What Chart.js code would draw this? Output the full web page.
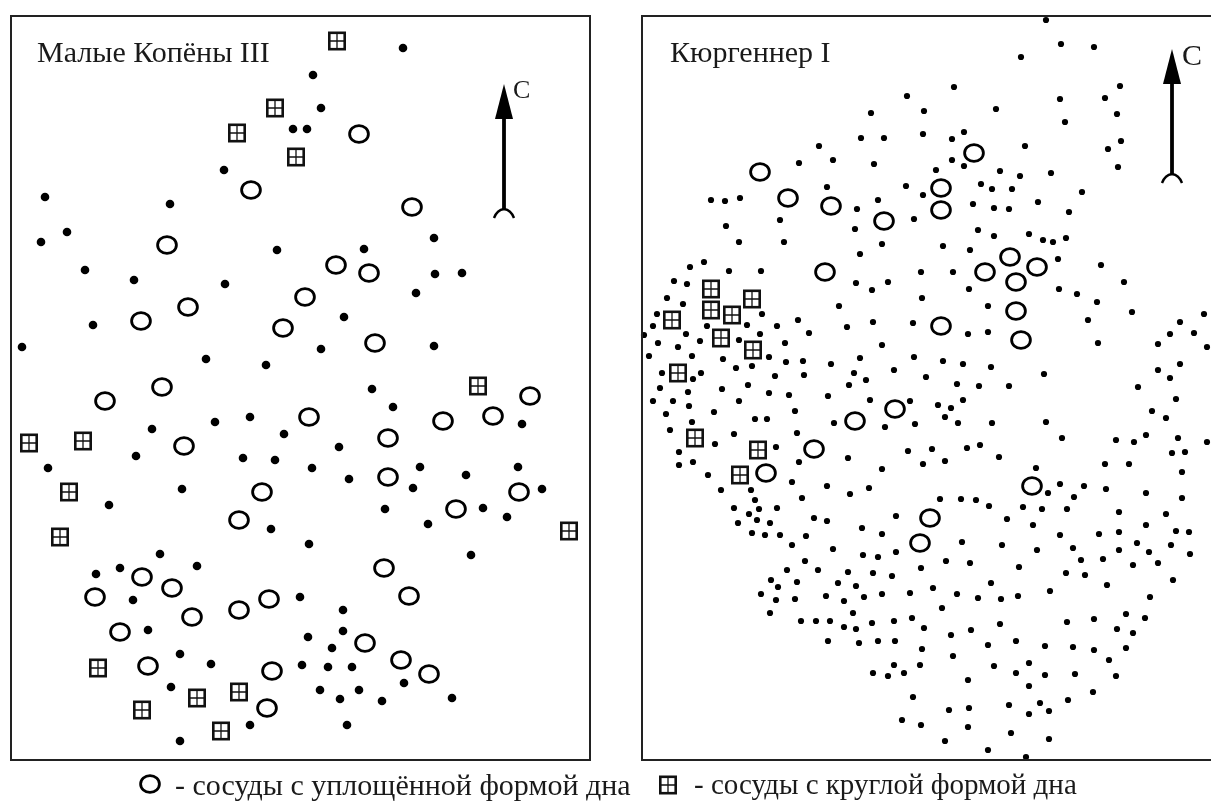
<!DOCTYPE html>
<html lang="ru">
  <head>
    <meta charset="UTF-8" />
    <title>Малые Копёны III, Кюргеннер I</title>
    <script src="https://cdnjs.cloudflare.com/ajax/libs/Chart.js/4.4.1/chart.umd.min.js"></script>
    <style>
      html, body { margin: 0; height: 100%; overflow: hidden; background: #ffffff; }
      canvas, .label { position: absolute; }
      .label { font-family: "Liberation Serif", serif; color: #1a1a1a; white-space: nowrap; line-height: 1; }
      .wrap { position: absolute; top: 0; height: 790px; }
      #leftWrap { left: 0; width: 620px; }
      #rightWrap { left: 630px; width: 590px; }
    </style>
  </head>
  <body>
    <div class="wrap" id="leftWrap"><canvas id="kopenyChart"></canvas></div>
    <div class="wrap" id="rightWrap"><canvas id="kurgennerChart"></canvas></div>

    <div class="label" style="left:37px;top:37px;font-size:30px">Малые Копёны III</div>
    <div class="label" style="left:670px;top:37px;font-size:30px">Кюргеннер I</div>
    <div class="label" style="left:513px;top:77px;font-size:26px">С</div>
    <div class="label" style="left:1182px;top:40px;font-size:30px">С</div>
    <div class="label" style="left:175px;top:770px;font-size:30px">- сосуды с уплощённой формой дна</div>
    <div class="label" style="left:694px;top:770px;font-size:29px">- сосуды с круглой формой дна</div>

    <script>
      // map coordinates: [x, y]
      const kopenyDots = [
        [403,48],[313,75],[321,108],[293,129],[307,129],[224,170],[45,197],[170,204],[67,232],[41,242],
        [277,250],[364,249],[434,238],[85,270],[134,280],[225,284],[435,274],[462,273],[416,293],[344,317],
        [93,325],[22,347],[206,359],[266,365],[321,349],[434,346],[372,389],[393,407],[215,422],[250,417],
        [522,424],[284,434],[152,429],[339,447],[136,456],[243,458],[275,460],[48,468],[312,468],[420,467],
        [466,475],[518,467],[349,479],[413,488],[542,489],[182,489],[109,505],[385,509],[483,508],[507,517],
        [428,524],[271,529],[309,544],[160,554],[471,555],[96,574],[120,568],[197,566],[133,600],[300,597],
        [343,610],[148,630],[343,631],[308,637],[332,648],[180,654],[211,664],[302,665],[328,667],[352,667],
        [171,687],[320,690],[359,690],[404,683],[340,699],[382,701],[452,698],[250,725],[347,725],[180,741]
      ];
      const kopenyRings = [
        [359,134],[251,190],[412,207],[167,245],[336,265],[369,273],[305,297],[188,307],[141,321],[283,328],
        [375,343],[162,387],[105,401],[309,417],[530,396],[493,416],[443,421],[388,438],[184,446],[388,477],
        [262,492],[519,492],[456,509],[239,520],[384,568],[142,577],[172,588],[95,597],[269,599],[409,596],
        [239,610],[192,617],[120,632],[365,643],[401,660],[429,674],[272,671],[148,666],[267,708]
      ];
      const kopenySquares = [
        [337,41],[275,108],[237,133],[296,157],[478,386],[29,443],[83,441],[69,492],[60,537],[569,531],
        [98,668],[239,692],[197,698],[142,710],[221,731]
      ];
      const kopenyArrow = [504, 84, 218];

      const kurgennerDots = [
        [1046,20],[1061,44],[1094,47],[1021,57],[954,87],[1120,86],[1060,99],[1105,98],[924,111],[996,109],
        [1117,114],[1065,122],[923,134],[964,132],[952,139],[1025,146],[1121,141],[1108,149],[952,160],[964,166],
        [936,170],[1000,171],[1020,176],[1051,173],[1118,167],[981,184],[992,189],[1012,189],[923,195],[1082,192],
        [973,204],[994,208],[1009,209],[1038,202],[1069,212],[978,230],[994,236],[1029,234],[1043,240],[1053,242],
        [1066,238],[943,246],[970,250],[1058,259],[1101,265],[921,272],[953,272],[1124,282],[969,289],[1059,289],
        [1077,294],[922,298],[1097,302],[988,306],[1132,312],[1204,314],[1088,320],[1180,322],[988,332],[968,334],
        [1194,333],[1170,334],[1098,343],[1158,344],[1207,347],[943,361],[963,364],[1180,364],[991,367],[1158,370],
        [1044,374],[926,377],[1170,378],[957,384],[979,386],[1009,386],[1138,387],[963,400],[1176,399],[938,405],
        [951,408],[945,417],[958,423],[992,423],[1046,422],[1152,411],[1166,418],[1062,438],[1116,440],[1134,442],
        [1146,435],[1178,438],[1207,442],[932,449],[967,448],[980,445],[1172,453],[1185,452],[999,457],[923,464],
        [945,461],[1105,464],[1129,464],[1036,468],[1182,472],[1060,484],[1084,486],[1106,489],[1048,493],[1146,493],
        [1074,497],[1182,498],[940,499],[961,499],[976,500],[989,506],[1023,507],[1042,509],[1067,509],[1119,512],
        [1166,514],[1007,519],[1033,525],[1146,525],[1060,535],[1099,534],[1119,532],[1176,531],[1189,532],[962,542],
        [1002,545],[1137,543],[1171,545],[1037,550],[1073,548],[1119,550],[1149,552],[1190,554],[946,561],[970,563],
        [1081,560],[1103,559],[1158,563],[1133,565],[921,568],[1019,567],[1066,573],[1085,575],[1173,580],[991,583],
        [1107,585],[933,588],[957,594],[1050,591],[1018,596],[978,598],[1001,599],[1150,597],
        [907,96],[871,113],[861,138],[884,138],[819,146],[833,160],[799,163],[874,164],[827,187],[906,186],
        [878,200],[857,209],[711,200],[725,201],[740,198],[780,220],[726,226],[855,229],[914,219],
        [739,242],[784,242],[882,244],[860,254],[704,262],[690,267],[729,271],[761,271],[674,281],[687,284],
        [856,283],[888,282],[872,290],[667,298],[683,304],[839,306],[657,314],[762,314],[798,320],[873,322],
        [913,323],[653,326],[707,326],[747,325],[777,326],[847,327],[644,335],[686,334],[760,334],[809,333],
        [700,341],[739,340],[658,343],[785,343],[882,345],[678,347],[649,356],[692,356],[769,357],[860,358],
        [914,357],[723,359],[786,362],[803,361],[831,364],[736,368],[752,366],[894,370],[662,373],[701,373],
        [854,373],[775,376],[804,375],[866,380],[693,379],[660,388],[722,389],[748,385],[849,385],[688,392],
        [769,393],[789,395],[828,396],[653,401],[673,401],[739,401],[870,400],[910,401],[689,406],[666,414],
        [714,412],[795,411],[692,422],[755,419],[767,419],[834,423],[885,427],[915,424],[670,430],
        [734,434],[797,433],[715,444],[776,447],[679,452],[693,462],[679,465],[799,462],[908,451],[848,458],
        [882,469],[708,475],[792,482],[721,490],[751,490],[827,486],[850,494],[869,488],[802,498],[755,500],
        [734,508],[759,509],[777,508],[749,514],[757,520],[770,523],[738,523],[814,518],[827,521],[896,516],
        [862,528],[882,534],[752,533],[765,535],[780,535],[806,536],[792,545],[833,549],[863,555],[878,557],
        [896,552],[805,561],[787,570],[818,570],[848,572],[873,573],[892,576],[771,580],[797,582],[838,583],
        [856,586],[778,587],[761,594],[826,596],[864,597],[882,594],[910,593],[776,600],[795,599],[844,601],
        [853,613],[770,613],[801,621],[816,621],[830,621],[844,627],[856,629],[872,623],[894,621],[912,618],
        [924,628],[942,608],[951,635],[971,630],[1000,624],[1067,622],[1094,619],[1126,614],[1145,618],[1117,629],
        [1133,633],[828,641],[859,643],[878,641],[895,641],[922,649],[988,645],[1016,641],[1045,646],[1073,647],
        [1094,650],[1126,648],[953,656],[1109,660],[1029,663],[894,665],[920,665],[994,666],[873,673],[888,676],
        [904,673],[1016,673],[1045,675],[1075,674],[1116,676],[968,680],[1029,686],[1093,692],[913,697],[1068,700],
        [1040,703],[1009,705],[969,708],[949,710],[1049,711],[1029,714],[902,720],[921,725],[968,727],[1011,733],
        [1049,739],[945,741],[988,750],[1026,757]
      ];
      const kurgennerRings = [
        [760,172],[788,198],[831,206],[884,221],[974,153],[941,188],[941,210],[825,272],[1010,257],[1037,267],
        [985,272],[1016,282],[1016,311],[941,326],[1021,340],[855,421],[895,409],[814,449],[766,473],[1032,486],
        [930,518],[920,543]
      ];
      const kurgennerSquares = [
        [711,289],[752,299],[711,310],[732,315],[672,320],[721,338],[753,350],[678,373],[695,438],[758,450],
        [740,475]
      ];
      const kurgennerArrow = [1172, 49, 183];

      function makeRing() {
        const c = document.createElement("canvas");
        c.width = 26;
        c.height = 24;
        const g = c.getContext("2d");
        g.lineWidth = 2.8;
        g.strokeStyle = "#000";
        g.beginPath();
        g.ellipse(13, 12, 9.4, 8.4, 0, 0, Math.PI * 2);
        g.stroke();
        return c;
      }

      function makeSquare() {
        const c = document.createElement("canvas");
        c.width = 20;
        c.height = 20;
        const g = c.getContext("2d");
        g.strokeStyle = "#111";
        g.lineWidth = 2.6;
        g.strokeRect(2.3, 1.8, 15.4, 16.4);
        g.lineWidth = 1.3;
        g.beginPath();
        g.moveTo(10, 2);
        g.lineTo(10, 18);
        g.moveTo(2, 10);
        g.lineTo(18, 10);
        g.stroke();
        return c;
      }

      const ringImg = makeRing();
      const squareImg = makeSquare();
      const toPoints = (list) => list.map((p) => ({ x: p[0], y: p[1] }));

      // frame round the plot and the north arrow, placed through the scales
      const mapDecor = {
        id: "mapDecor",
        afterDatasetsDraw(chart, args, opts) {
          const { ctx, chartArea: a, scales } = chart;
          ctx.save();
          ctx.strokeStyle = "#222";
          ctx.lineWidth = 2;
          ctx.strokeRect(a.left, a.top, a.right - a.left, a.bottom - a.top);

          const x = scales.x.getPixelForValue(opts.arrow[0]);
          const top = scales.y.getPixelForValue(opts.arrow[1]);
          const bottom = scales.y.getPixelForValue(opts.arrow[2]);
          ctx.strokeStyle = "#000";
          ctx.fillStyle = "#000";
          ctx.lineWidth = 3.8;
          ctx.beginPath();
          ctx.moveTo(x, top + 20);
          ctx.lineTo(x, bottom - 9);
          ctx.stroke();
          ctx.beginPath();
          ctx.moveTo(x, top);
          ctx.lineTo(x + 9, top + 35);
          ctx.lineTo(x - 9, top + 35);
          ctx.closePath();
          ctx.fill();
          ctx.lineWidth = 2.4;
          ctx.beginPath();
          ctx.moveTo(x - 10, bottom);
          ctx.quadraticCurveTo(x - 7, bottom - 8, x, bottom - 9);
          ctx.quadraticCurveTo(x + 7, bottom - 8, x + 10, bottom);
          ctx.stroke();
          ctx.restore();
        },
      };

      function drawMap(id, dots, rings, squares, arrow, dotSize, range, padding) {
        new Chart(document.getElementById(id), {
          type: "scatter",
          data: {
            datasets: [
              { label: "точки", data: toPoints(dots), pointRadius: dotSize, pointBackgroundColor: "#000", pointBorderWidth: 0, clip: false },
              { label: "сосуды с уплощённой формой дна", data: toPoints(rings), pointStyle: ringImg, clip: false },
              { label: "сосуды с круглой формой дна", data: toPoints(squares), pointStyle: squareImg, clip: false },
            ],
          },
          options: {
            responsive: true,
            maintainAspectRatio: false,
            animation: false,
            layout: { padding: padding },
            events: [],
            scales: {
              x: { type: "linear", display: false, min: range[0], max: range[1] },
              y: { type: "linear", display: false, reverse: true, min: range[2], max: range[3] },
            },
            plugins: {
              legend: { display: false },
              tooltip: { enabled: false },
              mapDecor: { arrow: arrow },
            },
          },
          plugins: [mapDecor],
        });
      }

      drawMap("kopenyChart", kopenyDots, kopenyRings, kopenySquares, kopenyArrow, 4.3, [11, 590, 16, 760],
        { left: 11, right: 30, top: 16, bottom: 30 });
      drawMap("kurgennerChart", kurgennerDots, kurgennerRings, kurgennerSquares, kurgennerArrow, 3.1, [642, 1215, 16, 760],
        { left: 12, right: 5, top: 16, bottom: 30 });

      // legend markers
      function legendMark(img, left, top) {
        img.style.left = left + "px";
        img.style.top = top + "px";
        document.body.appendChild(img);
      }
      legendMark(makeRing(), 137, 772);
      legendMark(makeSquare(), 658, 775);
    </script>
  </body>
</html>
